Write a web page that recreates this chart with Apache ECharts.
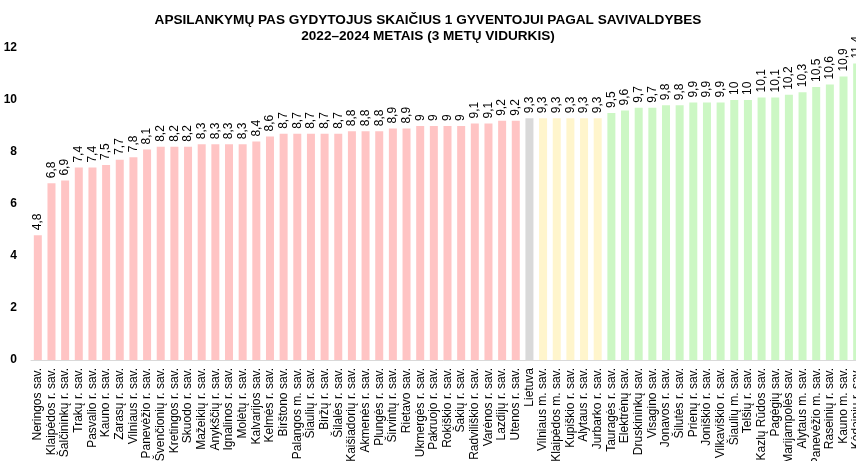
<!DOCTYPE html>
<html>
<head>
<meta charset="utf-8">
<script src="https://cdn.jsdelivr.net/npm/echarts@6/dist/echarts.min.js"></script>
<style>
  html, body { margin: 0; padding: 0; background: #fff; }
  #chart-container { width: 856px; height: 461px; }
</style>
</head>
<body>
<div id="chart-container"></div>
<script>
var myChart = echarts.init(document.getElementById('chart-container'));

// --- Data ---
const categories = [
    'Neringos sav.', 'Klaipėdos r. sav.', 'Šalčininkų r. sav.', 'Trakų r. sav.', 'Pasvalio r. sav.',
    'Kauno r. sav.', 'Zarasų r. sav.', 'Vilniaus r. sav.', 'Panevėžio r. sav.', 'Švenčionių r. sav.',
    'Kretingos r. sav.', 'Skuodo r. sav.', 'Mažeikių r. sav.', 'Anykščių r. sav.', 'Ignalinos r. sav.',
    'Molėtų r. sav.', 'Kalvarijos sav.', 'Kelmės r. sav.', 'Birštono sav.', 'Palangos m. sav.',
    'Šiaulių r. sav.', 'Biržų r. sav.', 'Šilalės r. sav.', 'Kaišiadorių r. sav.', 'Akmenės r. sav.',
    'Plungės r. sav.', 'Širvintų r. sav.', 'Rietavo sav.', 'Ukmergės r. sav.', 'Pakruojo r. sav.',
    'Rokiškio r. sav.', 'Šakių r. sav.', 'Radviliškio r. sav.', 'Varėnos r. sav.', 'Lazdijų r. sav.',
    'Utenos r. sav.', 'Lietuva', 'Vilniaus m. sav.', 'Klaipėdos m. sav.', 'Kupiškio r. sav.',
    'Alytaus r. sav.', 'Jurbarko r. sav.', 'Tauragės r. sav.', 'Elektrėnų sav.', 'Druskininkų sav.',
    'Visagino sav.', 'Jonavos r. sav.', 'Šilutės r. sav.', 'Prienų r. sav.', 'Joniškio r. sav.',
    'Vilkaviškio r. sav.', 'Šiaulių m. sav.', 'Telšių r. sav.', 'Kazlų Rūdos sav.', 'Pagėgių sav.',
    'Marijampolės sav.', 'Alytaus m. sav.', 'Panevėžio m. sav.', 'Raseinių r. sav.', 'Kauno m. sav.',
    'Kėdainių r. sav.'
];

const values = [
    4.8, 6.8, 6.9, 7.4, 7.4, 7.5, 7.7, 7.8, 8.1, 8.2,
    8.2, 8.2, 8.3, 8.3, 8.3, 8.3, 8.4, 8.6, 8.7, 8.7,
    8.7, 8.7, 8.7, 8.8, 8.8, 8.8, 8.9, 8.9, 9, 9,
    9, 9, 9.1, 9.1, 9.2, 9.2, 9.3, 9.3, 9.3, 9.3,
    9.3, 9.3, 9.5, 9.6, 9.7, 9.7, 9.8, 9.8, 9.9, 9.9,
    9.9, 10, 10, 10.1, 10.1, 10.2, 10.3, 10.5, 10.6, 10.9,
    11.4
];

// group per category: below average / country / average / above average
const groups = [
    'low', 'low', 'low', 'low', 'low', 'low', 'low', 'low', 'low', 'low',
    'low', 'low', 'low', 'low', 'low', 'low', 'low', 'low', 'low', 'low',
    'low', 'low', 'low', 'low', 'low', 'low', 'low', 'low', 'low', 'low',
    'low', 'low', 'low', 'low', 'low', 'low', 'lt', 'avg', 'avg', 'avg',
    'avg', 'avg', 'high', 'high', 'high', 'high', 'high', 'high', 'high', 'high',
    'high', 'high', 'high', 'high', 'high', 'high', 'high', 'high', 'high', 'high',
    'high'
];

const yTicks = [0, 2, 4, 6, 8, 10, 12];

const groupColors = { low: '#FFC4C4', lt: '#D9D9D9', avg: '#FFF5CC', high: '#CCF7C4' };

const fontFamily = 'Liberation Sans, Arial, sans-serif';

const option = {
    animation: false,
    title: {
        text: 'APSILANKYMŲ PAS GYDYTOJUS SKAIČIUS 1 GYVENTOJUI PAGAL SAVIVALDYBES\n2022–2024 METAIS (3 METŲ VIDURKIS)',
        left: 'center',
        top: 7,
        textStyle: { fontFamily: fontFamily, fontSize: 13.6, fontWeight: 'bold', color: '#000', lineHeight: 16 }
    },
    grid: { left: 31, top: 48, width: 833, bottom: 101, outerBoundsMode: 'none' },
    xAxis: {
        type: 'category',
        data: categories,
        axisLine: { show: true, lineStyle: { color: '#D9D9D9', width: 1 } },
        axisTick: { show: false },
        axisLabel: {
            interval: 0,
            rotate: 90,
            margin: 8,
            fontFamily: fontFamily,
            fontSize: 12,
            color: '#000'
        }
    },
    yAxis: {
        type: 'value',
        min: yTicks[0],
        max: yTicks[yTicks.length - 1],
        interval: 2,
        axisLine: { show: false },
        axisTick: { show: false },
        splitLine: { show: false },
        axisLabel: { fontFamily: fontFamily, fontSize: 12, fontWeight: 'bold', color: '#000', margin: 14 }
    },
    series: [{
        type: 'bar',
        barWidth: 8,
        data: values.map(function (v, i) {
            return { value: v, itemStyle: { color: groupColors[groups[i]] } };
        }),
        label: {
            show: true,
            position: 'top',
            rotate: 90,
            align: 'left',
            verticalAlign: 'middle',
            distance: 5,
            fontFamily: fontFamily,
            fontSize: 12,
            color: '#000',
            formatter: function (p) { return String(p.value).replace('.', ','); }
        }
    }]
};

myChart.setOption(option);

window.addEventListener('resize', function() {
    myChart.resize();
});
</script>
</body>
</html>
